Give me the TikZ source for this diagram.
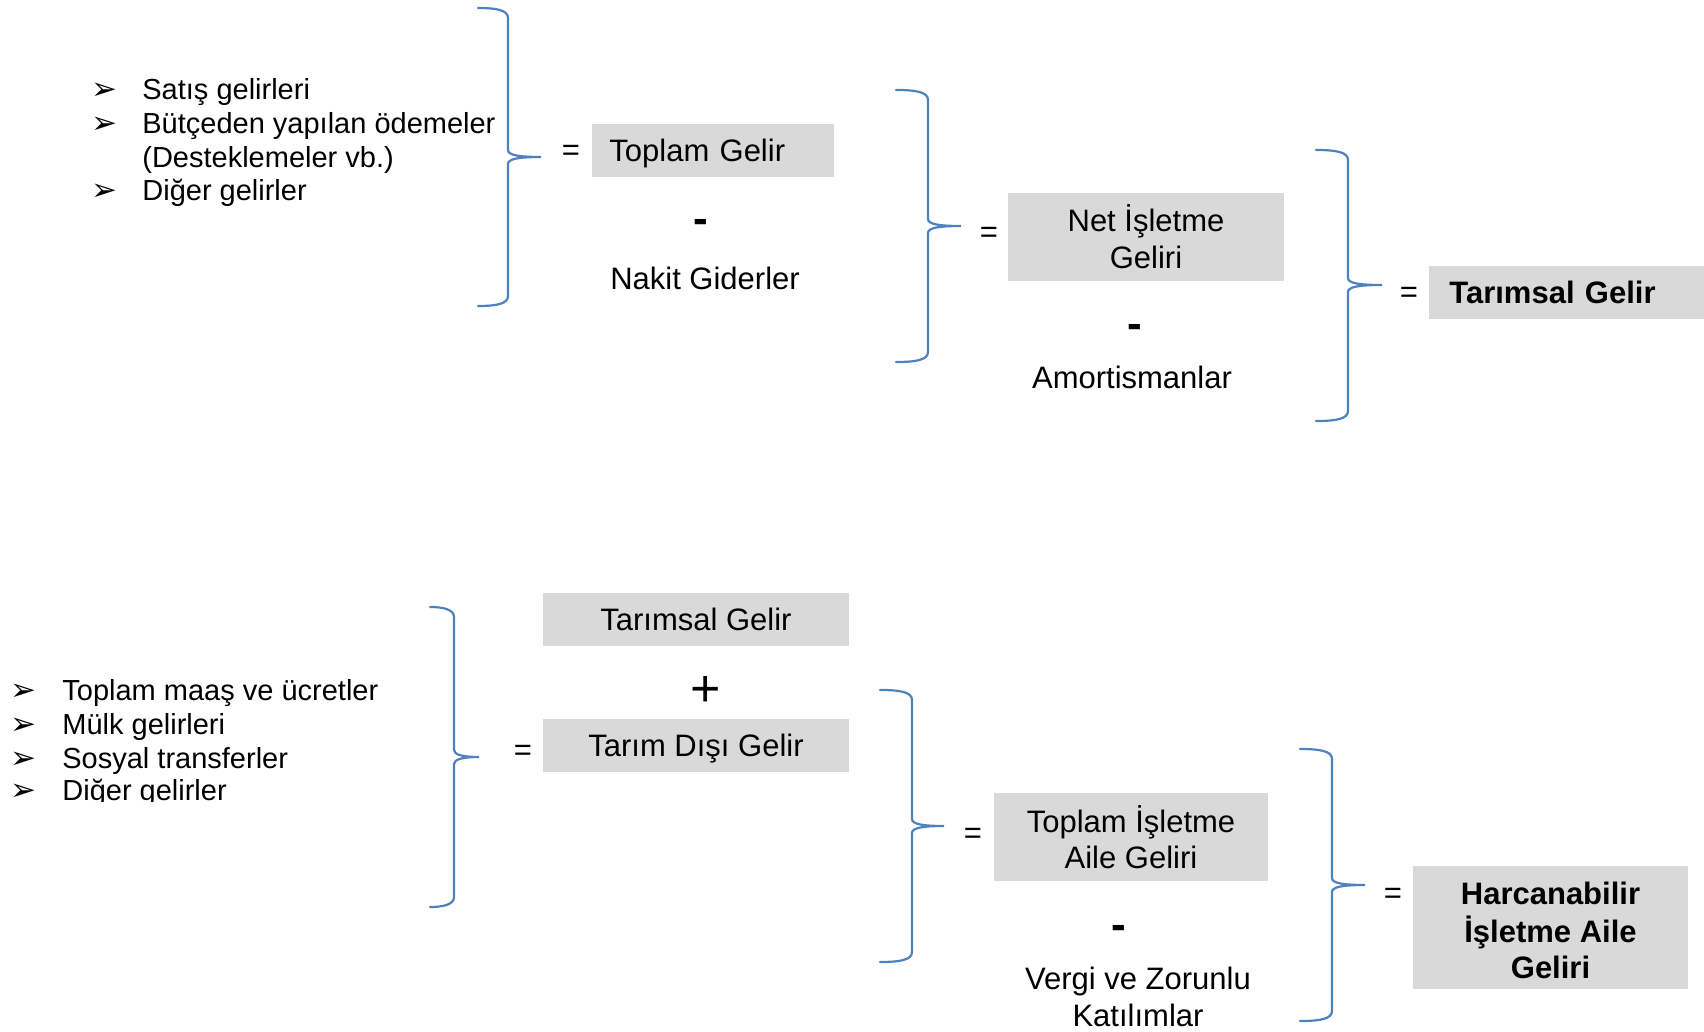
\documentclass[tikz,border=0pt]{standalone}
\usepackage{fontspec}
\setmainfont{Liberation Sans}
\newfontfamily\dejavu{DejaVu Sans}
\definecolor{bracecol}{HTML}{4F81BD}
\definecolor{boxgray}{HTML}{D9D9D9}
% curly brace: #1 end x, #2 spine x, #3 tip x, #4 top y, #5 tip y, #6 bottom y
\newcommand\curlybr[6]{%
  \draw[bracestyle] (#1,#4) .. controls (#2-12,#4) and (#2,#4+2) .. (#2,#4+10)
    -- (#2,#5-7) .. controls (#2,#5-2) and (#2+10,#5) .. (#3,#5)
    .. controls (#2+10,#5) and (#2,#5+2) .. (#2,#5+7)
    -- (#2,#6-10) .. controls (#2,#6-2) and (#2-12,#6) .. (#1,#6);}
\newcommand\arrbul[1]{\makebox[#1][l]{\hspace*{-2pt}\fontsize{15.5pt}{16pt}\dejavu ➢}}
\newcommand\oneline[1]{\raisebox{0pt}[0.72em][0pt]{#1}}
\begin{document}
\begin{tikzpicture}[x={(0.5pt,0)}, y={(0,-0.5pt)},
  bracestyle/.style={draw=bracecol, line width=1.1pt, line cap=round},
  greybox/.style={fill=boxgray, inner sep=0pt, align=center,
     font=\fontsize{15.5pt}{18.3pt}\selectfont},
  listitem/.style={anchor=base west, inner sep=0pt,
     font=\fontsize{14.5pt}{17pt}\selectfont},
  plaintext/.style={inner sep=0pt, align=center,
     font=\fontsize{15.5pt}{18.3pt}\selectfont},
  eqsign/.style={inner sep=0pt, font=\fontsize{15.5pt}{17pt}\selectfont},
  minus/.style={anchor=base, inner sep=0pt, font=\fontsize{22pt}{24pt}\bfseries},
  plus/.style={anchor=base, inner sep=0pt, font=\fontsize{26pt}{28pt}\selectfont}]
\useasboundingbox (0,0) rectangle (1704,1032);

% ---------------- top part ----------------
\node[listitem] (l1) at (95,100) {\arrbul{23.5pt}Satış gelirleri};
\node[listitem] (l2) at (95,134) {\arrbul{23.5pt}Bütçeden yapılan ödemeler};
\node[listitem] (l2b) at (142,168) {(Desteklemeler vb.)};
\node[listitem] (l3) at (95,201) {\arrbul{23.5pt}Diğer gelirler};

\curlybr{478}{508}{541}{8}{157}{306}
\node[eqsign] (eq1) at (571,153) {=};
\node[greybox, anchor=west, inner xsep=8.5pt, text width=104pt, align=left,
      minimum height=26.5pt] (tg) at (592,150.5) {\oneline{Toplam Gelir}};
\node[minus] (m1) at (701,234) {-};
\node[plaintext, anchor=base] (nk) at (705,290) {Nakit Giderler};

\curlybr{896}{928}{961}{90}{226}{362}
\node[eqsign] (eq2) at (989,235) {=};
\node[greybox, minimum width=138pt, minimum height=44pt] (nig) at (1146,237)
  {Net İşletme\\Geliri};
\node[minus] (m2) at (1135,339) {-};
\node[plaintext, anchor=base] (am) at (1132,389) {Amortismanlar};

\curlybr{1316}{1348}{1382}{150}{285}{421}
\node[eqsign] (eq3) at (1409,295) {=};
\node[greybox, anchor=west, inner xsep=10pt, text width=117.5pt, align=left,
      minimum height=26.5pt, font=\fontsize{15.5pt}{18.3pt}\bfseries] (targ)
  at (1429,292.5) {\oneline{Tarımsal Gelir}};

% ---------------- bottom part ----------------
\node[listitem] (k1) at (14,700) {\arrbul{24pt}Toplam maaş ve ücretler};
\node[listitem] (k2) at (14,734) {\arrbul{24pt}Mülk gelirleri};
\node[listitem] (k3) at (14,768) {\arrbul{24pt}Sosyal transferler};
\begin{scope}
  \clip (0,760) rectangle (420,801);
  \node[listitem] (k4) at (14,800) {\arrbul{24pt}Diğer gelirler};
\end{scope}

\curlybr{430}{454}{479}{607}{757}{907}
\node[eqsign] (eq4) at (523,753) {=};
\node[greybox, minimum width=153pt, minimum height=26.5pt] (tg2) at (696,619.5)
  {\oneline{Tarımsal Gelir}};
\node[plus] (p1) at (706,706) {+};
\node[greybox, minimum width=153pt, minimum height=26.5pt] (tdg) at (696,745.5)
  {\oneline{Tarım Dışı Gelir}};

\curlybr{880}{912}{944}{690}{826}{962}
\node[eqsign] (eq5) at (973,836) {=};
\node[greybox, minimum width=137pt, minimum height=44pt] (tiag) at (1131,837)
  {Toplam İşletme\\Aile Geliri};
\node[minus] (m3) at (1119,939) {-};
\node[plaintext] (vz) at (1138,997) {Vergi ve Zorunlu\\Katılımlar};

\curlybr{1300}{1332}{1365}{749}{885}{1021}
\node[eqsign] (eq6) at (1393,896) {=};
\node[greybox, minimum width=137.5pt, minimum height=61.5pt,
      font=\fontsize{15.5pt}{18.2pt}\bfseries] (hiag) at (1550.5,927.5)
  {\raisebox{-3.4pt}[\height][\depth]{\begin{tabular}{@{}c@{}}Harcanabilir\\İşletme Aile\\Geliri\end{tabular}}};
\end{tikzpicture}
\end{document}
